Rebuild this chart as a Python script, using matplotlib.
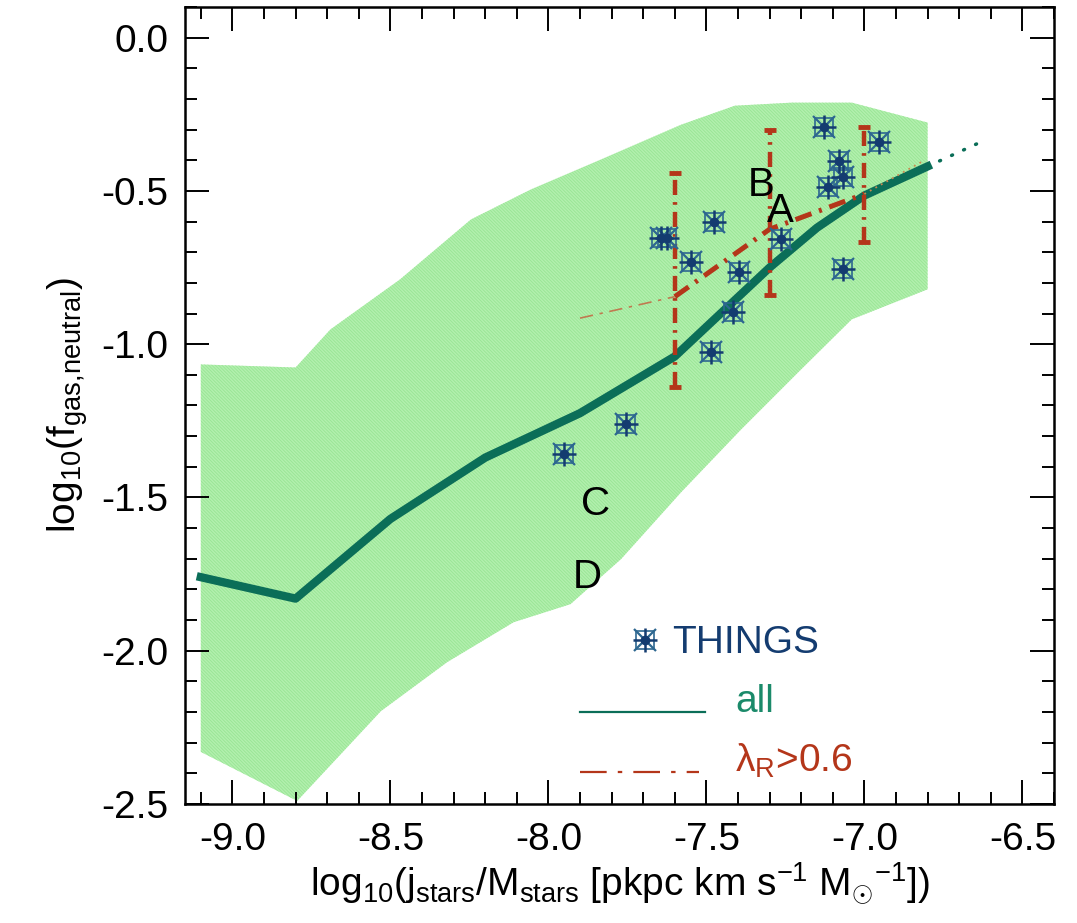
import matplotlib
matplotlib.use("Agg")
import matplotlib.pyplot as plt
from matplotlib.ticker import MultipleLocator, FormatStrFormatter

plt.rcParams['font.family'] = ['Liberation Sans', 'DejaVu Sans']
plt.rcParams['mathtext.fontset'] = 'custom'
plt.rcParams['mathtext.rm'] = 'Liberation Sans'
plt.rcParams['mathtext.it'] = 'Liberation Sans:italic'
plt.rcParams['axes.unicode_minus'] = False
plt.rcParams['hatch.linewidth'] = 0.6

# 10-90 percentile envelope of the simulated galaxies
band_up_x = [-9.1, -8.8, -8.69, -8.47, -8.245, -8.055, -7.835, -7.58, -7.41, -7.23, -7.04, -6.8]
band_up_y = [-1.066, -1.076, -0.952, -0.789, -0.593, -0.495, -0.398, -0.284, -0.222, -0.212, -0.212, -0.277]
band_lo_x = [-6.8, -6.8, -7.04, -7.2, -7.39, -7.58, -7.77, -7.93, -8.11, -8.32, -8.53, -8.795, -9.1]
band_lo_y = [-0.277, -0.821, -0.919, -1.082, -1.278, -1.483, -1.701, -1.848, -1.907, -2.037, -2.197, -2.49, -2.33]

# median of all galaxies
jbin = [-9.1, -8.8, -8.5, -8.2, -7.9, -7.6, -7.45, -7.3, -7.15, -7.0, -6.8]
fgas_all = [-1.76, -1.83, -1.57, -1.37, -1.225, -1.04, -0.895, -0.75, -0.62, -0.515, -0.42]
ext_x = [-6.8, -6.62]
ext_y = [-0.42, -0.335]

# median and scatter of the fast rotators (lambda_R > 0.6)
lam_x = [-7.6, -7.3, -7.0]
lam_med = [-0.845, -0.625, -0.51]
lam_lo = [-1.14, -0.84, -0.665]
lam_hi = [-0.44, -0.30, -0.29]
lam_left_x = [-7.9, -7.6]
lam_left_y = [-0.915, -0.845]
lam_right_x = [-7.0, -6.81]
lam_right_y = [-0.51, -0.40]

# THINGS galaxies
things_x = [-7.128, -6.954, -7.08, -7.068, -7.116, -7.645, -7.625, -7.476, -7.264,
            -7.549, -7.397, -7.068, -7.416, -7.486, -7.755, -7.951]
things_y = [-0.290, -0.339, -0.404, -0.453, -0.486, -0.652, -0.652, -0.603, -0.658,
            -0.733, -0.763, -0.756, -0.896, -1.027, -1.261, -1.359]

# labelled galaxies
gal_names = ['B', 'A', 'C', 'D']
gal_x = [-7.328, -7.265, -7.85, -7.876]
gal_y = [-0.482, -0.567, -1.522, -1.76]

teal = '#0b6e58'
red = '#b4361a'
navy = '#143c70'

fig = plt.figure(figsize=(10.77, 9.23), dpi=100)
ax = fig.add_axes([185 / 1077, 1 - 804 / 923, 869 / 1077, 797 / 923])

ax.fill(band_up_x + band_lo_x, band_up_y + band_lo_y, facecolor='#b2f0ae',
        edgecolor='#98e494', hatch='\\\\\\\\\\\\\\\\\\\\', linewidth=0, zorder=1)

ax.plot(jbin, fgas_all, color=teal, lw=6, solid_joinstyle='round', zorder=3)
ax.plot(ext_x, ext_y, color=teal, lw=2.5, linestyle=(0, (0.3, 3.5)),
        dash_capstyle='round', zorder=3)

dd = (0, (3.4, 1.6, 0.6, 1.6))
ax.plot(lam_x, lam_med, color=red, lw=3.6, linestyle=dd, zorder=4)
ax.plot(lam_left_x, lam_left_y, color='#c07a50', lw=1.2, linestyle=(0, (8, 4, 2, 4)), zorder=4)
ax.plot(lam_right_x, lam_right_y, color='#c98a50', lw=1.3, linestyle=(0, (1, 2.5)), zorder=4)
ax.vlines(lam_x, lam_lo, lam_hi, color=red, lw=3.2, linestyle=dd, zorder=4)
ax.plot(lam_x, lam_lo, linestyle='none', marker='_', ms=9, mew=3.5, color=red, zorder=4)
ax.plot(lam_x, lam_hi, linestyle='none', marker='_', ms=9, mew=3.5, color=red, zorder=4)

# boxed asterisk symbol
def things_marker(x, y, **kw):
    ax.plot(x, y, linestyle='none', marker='s', ms=13, mfc='none', mec='#2d6790', mew=1.2, **kw)
    ax.plot(x, y, linestyle='none', marker='x', ms=16, mec='#2d6790', mew=1.6, **kw)
    ax.plot(x, y, linestyle='none', marker='+', ms=17, mec=navy, mew=1.8, **kw)
    ax.plot(x, y, linestyle='none', marker='o', ms=6, mfc=navy, mec=navy, **kw)

things_marker(things_x, things_y, zorder=5)

for name, gx, gy in zip(gal_names, gal_x, gal_y):
    ax.text(gx, gy, name, fontsize=29, ha='center', va='center', color='black', zorder=6)

# legend
things_marker([0.529], [0.206], transform=ax.transAxes, zorder=6, clip_on=False)
ax.text(0.560, 0.190, 'THINGS', transform=ax.transAxes, fontsize=28, color=navy,
        va='baseline', ha='left')
ax.plot([0.4545, 0.598], [0.1154, 0.1154], transform=ax.transAxes, color=teal, lw=1.6)
ax.text(0.633, 0.1154, 'all', transform=ax.transAxes, fontsize=28, color='#1b8a6a',
        va='baseline', ha='left')
ax.plot([0.4545, 0.592], [0.0402, 0.0402], transform=ax.transAxes, color=red, lw=1.6,
        linestyle=(0, (12, 5, 2, 5)))
ax.text(0.633, 0.0402, 'λ$_{\\rm R}$>0.6', transform=ax.transAxes, fontsize=28,
        color=red, va='baseline', ha='left')

ax.set_xlim(-9.15, -6.4)
ax.set_ylim(-2.5, 0.1)
ax.xaxis.set_major_locator(MultipleLocator(0.5))
ax.xaxis.set_minor_locator(MultipleLocator(0.1))
ax.yaxis.set_major_locator(MultipleLocator(0.5))
ax.yaxis.set_minor_locator(MultipleLocator(0.1))
ax.xaxis.set_major_formatter(FormatStrFormatter('%.1f'))
ax.yaxis.set_major_formatter(FormatStrFormatter('%.1f'))
ax.tick_params(which='both', direction='in', top=True, right=True, width=1.4,
               labelsize=28)
ax.tick_params(which='major', length=17)
ax.tick_params(which='minor', length=8.5)
ax.tick_params(axis='y', pad=12)
ax.tick_params(axis='x', pad=13)
for s in ax.spines.values():
    s.set_linewidth(1.8)

ax.set_xlabel(r'log$_{10}$(j$_{\rm stars}$/M$_{\rm stars}$ [pkpc km s$^{-1}$ M$_{\odot}$$^{-1}$])',
              fontsize=28, labelpad=2)
ax.set_ylabel(r'log$_{10}$(f$_{\rm gas{,}neutral}$)', fontsize=28, labelpad=8)

fig.savefig('out.png', dpi=100)
